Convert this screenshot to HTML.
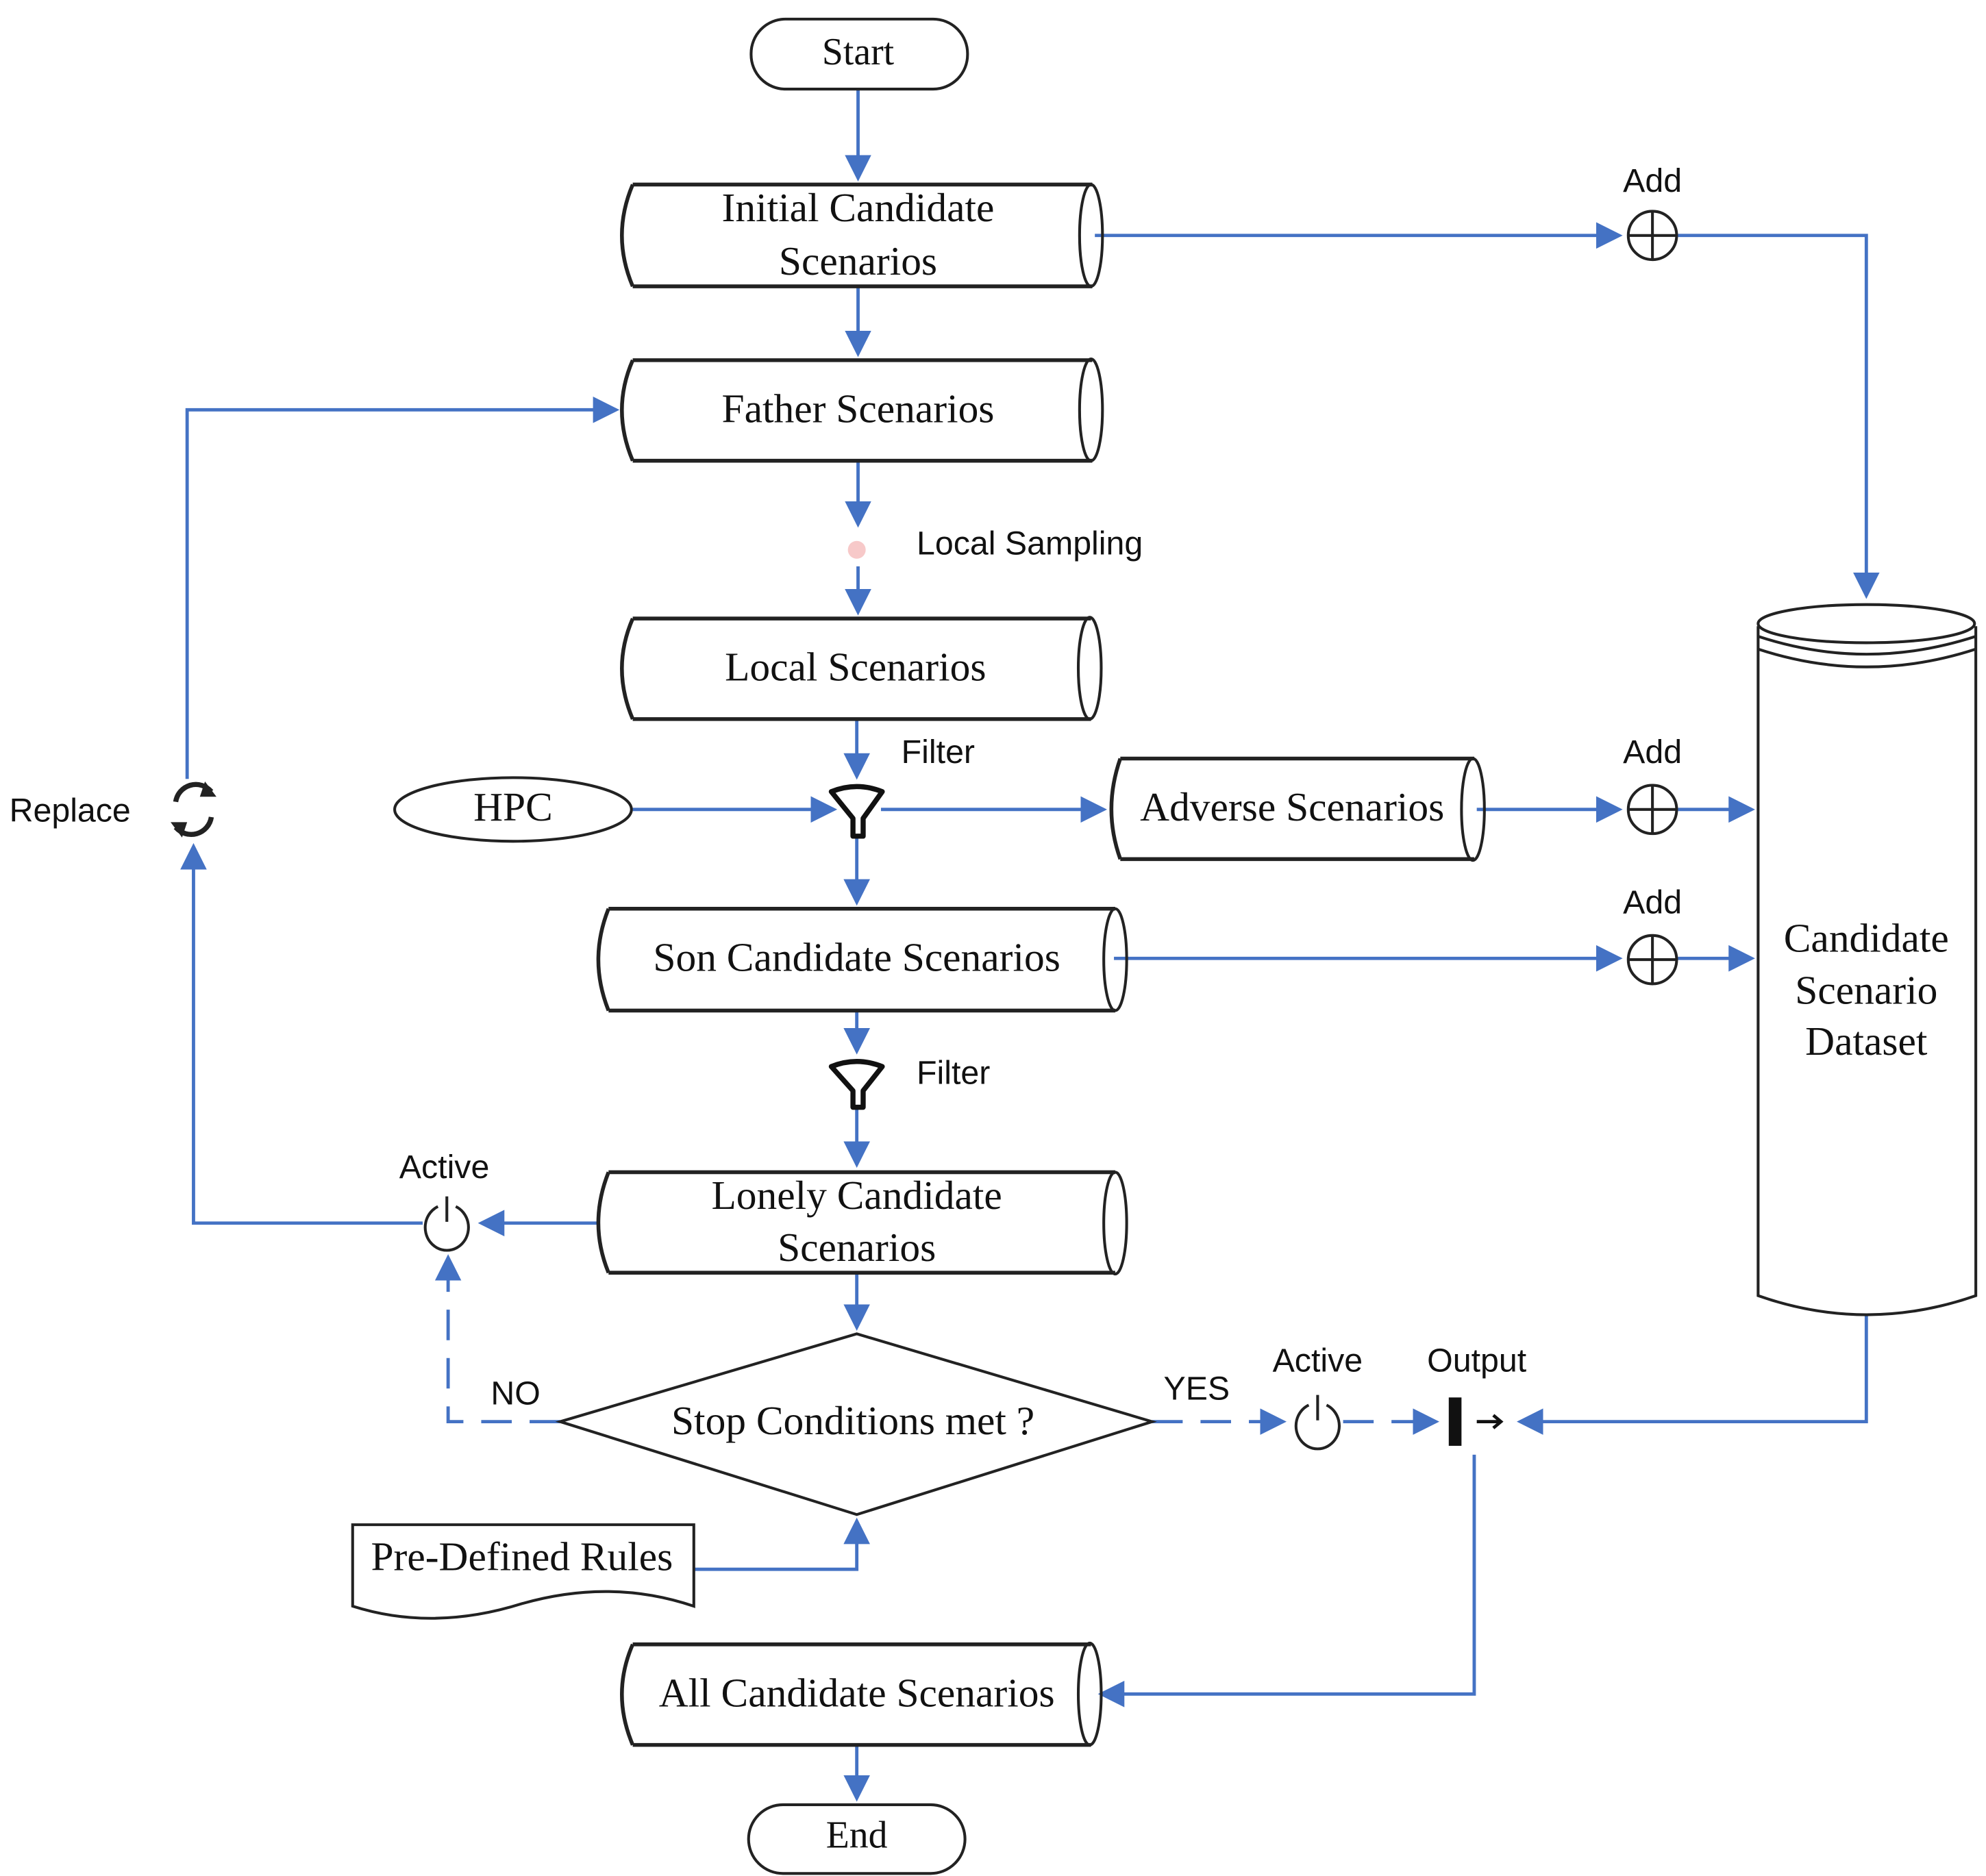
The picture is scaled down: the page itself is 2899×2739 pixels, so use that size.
<!DOCTYPE html>
<html><head><meta charset="utf-8"><style>html,body{margin:0;padding:0;background:#fff}svg{display:block}</style></head>
<body>
<svg width="2899" height="2739" viewBox="0 0 1560 1474" preserveAspectRatio="none" xmlns="http://www.w3.org/2000/svg">
<defs>
<marker id="a" markerWidth="8" markerHeight="8" refX="7" refY="4" orient="auto" markerUnits="strokeWidth"><path d="M0,0 L8,4 L0,8 z" fill="#4472C4"/></marker>
</defs>
<g fill="none" stroke="#4472C4" stroke-width="2.6">
<path d="M674,70 V140" marker-end="url(#a)"/>
<path d="M674,225 V278" marker-end="url(#a)"/>
<path d="M674,362 V412" marker-end="url(#a)"/>
<path d="M674,445 V481" marker-end="url(#a)"/>
<path d="M673,565 V610" marker-end="url(#a)"/>
<path d="M497,636 H655" marker-end="url(#a)"/>
<path d="M692,636 H867" marker-end="url(#a)"/>
<path d="M1160,636 H1272" marker-end="url(#a)"/>
<path d="M1318,636 H1376" marker-end="url(#a)"/>
<path d="M673,655 V709" marker-end="url(#a)"/>
<path d="M875,753 H1272" marker-end="url(#a)"/>
<path d="M1318,753 H1376" marker-end="url(#a)"/>
<path d="M860,185 H1272" marker-end="url(#a)"/>
<path d="M1318,185 H1466 V468" marker-end="url(#a)"/>
<path d="M673,794 V826" marker-end="url(#a)"/>
<path d="M673,870 V915" marker-end="url(#a)"/>
<path d="M470,961 H378" marker-end="url(#a)"/>
<path d="M332,961 H152 V665" marker-end="url(#a)"/>
<path d="M147,612 V322 H484" marker-end="url(#a)"/>
<path d="M673,1000 V1043" marker-end="url(#a)"/>
<path d="M440,1117 H352 V988" stroke-dasharray="24,14" marker-end="url(#a)"/>
<path d="M905,1117 H1008" stroke-dasharray="24,14" marker-end="url(#a)"/>
<path d="M1055,1117 H1128" stroke-dasharray="24,14" marker-end="url(#a)"/>
<path d="M1466,1033 V1117 H1194" marker-end="url(#a)"/>
<path d="M1158,1143 V1331 H865" marker-end="url(#a)"/>
<path d="M545,1233 H673 V1195" marker-end="url(#a)"/>
<path d="M673,1371 V1413" marker-end="url(#a)"/>
</g>
<g fill="none" stroke="#222" stroke-width="2.2">
<rect x="590" y="15" width="170" height="55" rx="27"/>
<rect x="588" y="1418" width="170" height="54" rx="27"/>
<path d="M497,145 H858 M497,225 H858 M497,145 Q480,185 497,225" stroke-width="3"/><ellipse cx="857" cy="185" rx="9" ry="40"/>
<path d="M497,283 H858 M497,362 H858 M497,283 Q480,322 497,362" stroke-width="3"/><ellipse cx="857" cy="322" rx="9" ry="40"/>
<path d="M497,486 H857 M497,565 H857 M497,486 Q480,525 497,565" stroke-width="3"/><ellipse cx="856" cy="525" rx="9" ry="40"/>
<path d="M880,596 H1158 M880,675 H1158 M880,596 Q866,636 880,675" stroke-width="3"/><ellipse cx="1157" cy="636" rx="9" ry="40"/>
<path d="M478,714 H876 M478,794 H876 M478,714 Q462,754 478,794" stroke-width="3"/><ellipse cx="876" cy="754" rx="9" ry="40"/>
<path d="M478,921 H876 M478,1000 H876 M478,921 Q462,961 478,1000" stroke-width="3"/><ellipse cx="876" cy="961" rx="9" ry="40"/>
<path d="M497,1292 H857 M497,1371 H857 M497,1292 Q480,1331 497,1371" stroke-width="3"/><ellipse cx="856" cy="1331" rx="9" ry="40"/>
<ellipse cx="403" cy="636" rx="93" ry="25"/>
<path d="M440,1117 L673,1048 L905,1117 L673,1190 Z"/>
<path d="M277,1198 H545 V1262 Q480,1240 410,1260 Q340,1282 277,1262 Z"/>
<path d="M1381,492 V1018 Q1466,1048 1552,1018 V492"/>
<ellipse cx="1466" cy="490" rx="85" ry="15"/>
<path d="M1381,500 Q1466,528 1552,500 M1381,510 Q1466,538 1552,510" />
<circle cx="1298" cy="185" r="19"/><path d="M1279,185 H1317 M1298,166 V204"/>
<circle cx="1298" cy="636" r="19"/><path d="M1279,636 H1317 M1298,617 V655"/>
<circle cx="1298" cy="754" r="19"/><path d="M1279,754 H1317 M1298,735 V773"/>
<path d="M344,948 A17,18 0 1 0 358,948 M351,940 V960"/>
<path d="M1028,1104 A17,18 0 1 0 1042,1104 M1035,1096 V1116"/>
<path d="M138,630 A16,16 0 0 1 166,622" stroke-width="4"/><path d="M166,642 A16,16 0 0 1 138,650" stroke-width="4"/>
</g>
<path d="M161,614 L170,626 L157,626 Z M143,658 L134,646 L147,646 Z" fill="#222"/>
<path d="M653,622 Q673,614 693,622 L678,643 V657 H670 V643 Z" fill="#fff" stroke="#111" stroke-width="4" stroke-linejoin="round"/>
<path d="M653,838 Q673,830 693,838 L678,857 V870 H670 V857 Z" fill="#fff" stroke="#111" stroke-width="4" stroke-linejoin="round"/>
<circle cx="673" cy="432" r="7" fill="#f7c9c9"/>
<rect x="1138" y="1098" width="10" height="38" fill="#111"/><path d="M1160,1117 H1178 M1173,1112 L1179,1117 L1173,1122" stroke="#111" stroke-width="2.5" fill="none"/>
<g font-family="Liberation Serif, serif" font-size="32" fill="#111" text-anchor="middle" dominant-baseline="central">
<text x="674" y="163">Initial Candidate</text><text x="674" y="205">Scenarios</text>
<text x="674" y="321">Father Scenarios</text>
<text x="672" y="524">Local Scenarios</text>
<text x="1015" y="634">Adverse Scenarios</text>
<text x="403" y="634">HPC</text>
<text x="673" y="752">Son Candidate Scenarios</text>
<text x="673" y="939">Lonely Candidate</text><text x="673" y="980">Scenarios</text>
<text x="670" y="1116">Stop Conditions met  ?</text>
<text x="410" y="1223">Pre-Defined Rules</text>
<text x="673" y="1330">All Candidate Scenarios</text>
<text x="1466" y="737">Candidate</text><text x="1466" y="778">Scenario</text><text x="1466" y="818">Dataset</text>
<text x="674" y="41" font-size="30">Start</text>
<text x="673" y="1442" font-size="30">End</text>
</g>
<g font-family="Liberation Sans, sans-serif" font-size="26" fill="#111" dominant-baseline="central">
<text x="1298" y="142" text-anchor="middle">Add</text>
<text x="1298" y="591" text-anchor="middle">Add</text>
<text x="1298" y="709" text-anchor="middle">Add</text>
<text x="720" y="427">Local Sampling</text>
<text x="708" y="591">Filter</text>
<text x="720" y="843">Filter</text>
<text x="55" y="637" text-anchor="middle">Replace</text>
<text x="349" y="917" text-anchor="middle">Active</text>
<text x="405" y="1095" text-anchor="middle">NO</text>
<text x="940" y="1091" text-anchor="middle">YES</text>
<text x="1035" y="1069" text-anchor="middle">Active</text>
<text x="1160" y="1069" text-anchor="middle">Output</text>
</g>
</svg>
</body></html>
